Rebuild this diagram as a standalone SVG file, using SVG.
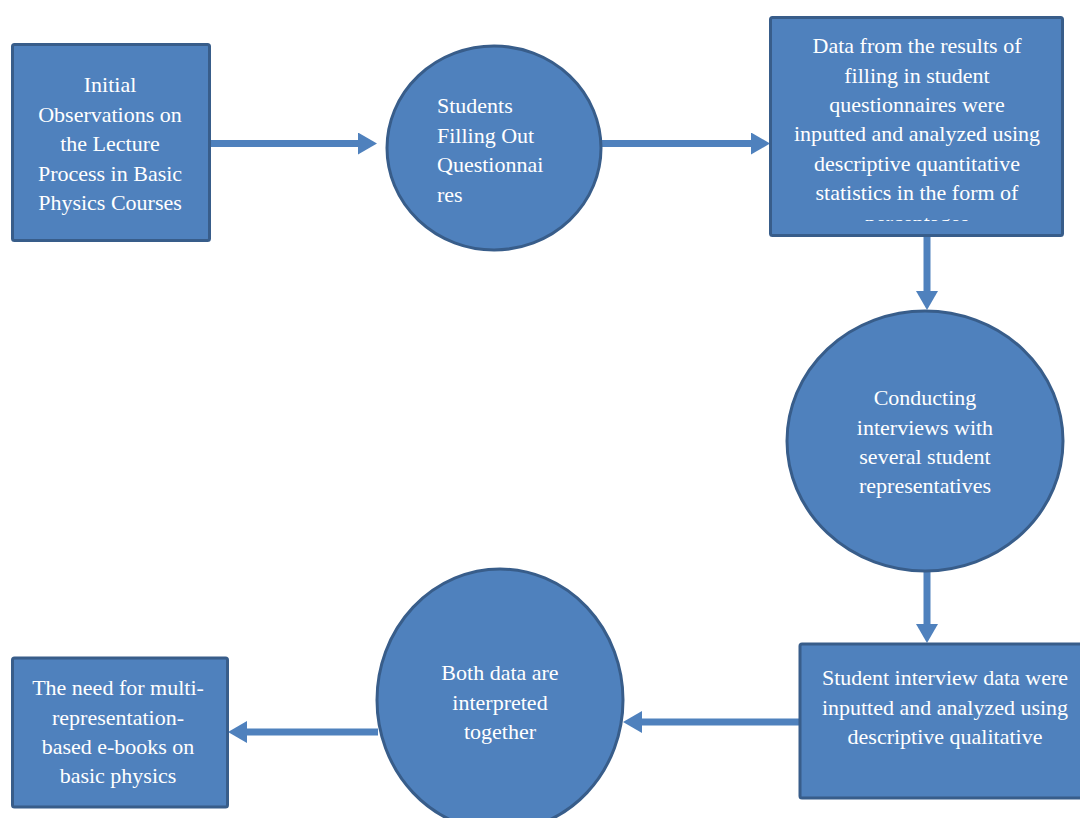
<svg xmlns="http://www.w3.org/2000/svg" width="1080" height="818" viewBox="0 0 1080 818">
<style>
.node{fill:#4F81BD;stroke:#385D8A;stroke-width:3}
.t{font-family:"Liberation Serif","Times New Roman",serif;font-size:22px;fill:#FFFFFF}
.c{text-anchor:middle}
.conn{stroke:#4F81BD;stroke-width:7;fill:none}
</style>
<defs>
<marker id="ah" markerUnits="userSpaceOnUse" markerWidth="21" markerHeight="24" refX="1" refY="11" orient="auto" viewBox="0 0 21 24">
<path d="M0,0 L19,11 L0,22 Z" fill="#4F81BD"/>
</marker>
<clipPath id="clip3"><rect x="770" y="17" width="293" height="204"/></clipPath>
</defs>
<rect width="1080" height="818" fill="#FFFFFF"/>
<g id="connectors">
<line class="conn" x1="211" y1="143.5" x2="359" y2="143.5" marker-end="url(#ah)"/>
<line class="conn" x1="601" y1="143.5" x2="752" y2="143.5" marker-end="url(#ah)"/>
<line class="conn" x1="927" y1="236" x2="927" y2="292" marker-end="url(#ah)"/>
<line class="conn" x1="927" y1="572" x2="927" y2="625" marker-end="url(#ah)"/>
<line class="conn" x1="800" y1="722" x2="641" y2="722" marker-end="url(#ah)"/>
<line class="conn" x1="378" y1="732" x2="246" y2="732" marker-end="url(#ah)"/>
</g>
<g id="node1">
<rect class="node" x="12.5" y="44.5" width="197" height="196" rx="2"/>
<text class="t c" x="110"><tspan x="110" y="92">Initial</tspan><tspan x="110" y="121.5">Observations on</tspan><tspan x="110" y="151">the Lecture</tspan><tspan x="110" y="180.5">Process in Basic</tspan><tspan x="110" y="210">Physics Courses</tspan></text>
</g>
<g id="node2">
<ellipse class="node" cx="494" cy="148" rx="107" ry="102"/>
<text class="t"><tspan x="437" y="113">Students</tspan><tspan x="437" y="142.5">Filling Out</tspan><tspan x="437" y="172">Questionnai</tspan><tspan x="437" y="201.5">res</tspan></text>
</g>
<g id="node3">
<rect class="node" x="770.5" y="17.5" width="292" height="218" rx="2"/>
<text class="t c" clip-path="url(#clip3)"><tspan x="917" y="53">Data from the results of</tspan><tspan x="917" y="82.5">filling in student</tspan><tspan x="917" y="112">questionnaires were</tspan><tspan x="917" y="141">inputted and analyzed using</tspan><tspan x="917" y="170.5">descriptive quantitative</tspan><tspan x="917" y="200">statistics in the form of</tspan><tspan x="917" y="229.5">percentages</tspan></text>
</g>
<g id="node4">
<ellipse class="node" cx="925" cy="441" rx="138" ry="130"/>
<text class="t c"><tspan x="925" y="405">Conducting</tspan><tspan x="925" y="434.5">interviews with</tspan><tspan x="925" y="464">several student</tspan><tspan x="925" y="493">representatives</tspan></text>
</g>
<g id="node5">
<rect class="node" x="800" y="644" width="290" height="154" rx="2"/>
<text class="t c"><tspan x="945" y="685">Student interview data were</tspan><tspan x="945" y="715">inputted and analyzed using</tspan><tspan x="945" y="744">descriptive qualitative</tspan></text>
</g>
<g id="node6">
<ellipse class="node" cx="500" cy="700" rx="123" ry="131"/>
<text class="t c"><tspan x="500" y="680">Both data are</tspan><tspan x="500" y="709.5">interpreted</tspan><tspan x="500" y="739">together</tspan></text>
</g>
<g id="node7">
<rect class="node" x="12.5" y="658" width="215" height="149" rx="2"/>
<text class="t c"><tspan x="118" y="695">The need for multi-</tspan><tspan x="118" y="725">representation-</tspan><tspan x="118" y="754">based e-books on</tspan><tspan x="118" y="783">basic physics</tspan></text>
</g>
</svg>
